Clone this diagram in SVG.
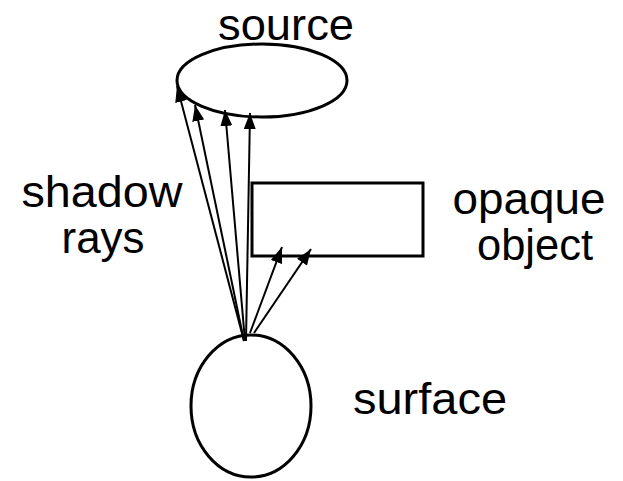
<svg xmlns="http://www.w3.org/2000/svg" width="623" height="481" viewBox="0 0 623 481">
<style>
.shape{fill:none;stroke:#000;stroke-width:3}
.ray{fill:none;stroke:#000;stroke-width:2;marker-end:url(#ah)}
text{font-family:"Liberation Sans",Arial,sans-serif;font-size:44px;fill:#000;text-anchor:middle}
</style>
<defs>
<marker id="ah" markerUnits="userSpaceOnUse" markerWidth="16" markerHeight="12" refX="16" refY="6" orient="auto">
<path d="M0,0 L16,6 L0,12 Z" fill="#000"/>
</marker>
</defs>
<g id="source">
<ellipse class="shape" cx="262" cy="80.5" rx="85" ry="36.5"/>
<text x="286" y="40" textLength="136" lengthAdjust="spacingAndGlyphs">source</text>
</g>
<g id="opaque-object">
<rect class="shape" x="252" y="183" width="171" height="73"/>
<text x="529" y="214" textLength="153" lengthAdjust="spacingAndGlyphs">opaque</text>
<text x="535" y="260" textLength="116" lengthAdjust="spacingAndGlyphs">object</text>
</g>
<g id="surface">
<ellipse class="shape" cx="251" cy="406" rx="60" ry="71"/>
<text x="430" y="414" textLength="154" lengthAdjust="spacingAndGlyphs">surface</text>
</g>
<g id="shadow-rays-label">
<text x="102" y="207" textLength="161" lengthAdjust="spacingAndGlyphs">shadow</text>
<text x="103" y="253" textLength="83" lengthAdjust="spacingAndGlyphs">rays</text>
</g>
<g id="connectors">
<line class="ray" x1="244" y1="341" x2="177" y2="86"/>
<line class="ray" x1="244" y1="341" x2="195" y2="105"/>
<line class="ray" x1="245" y1="341" x2="225" y2="110"/>
<line class="ray" x1="246" y1="341" x2="250" y2="113"/>
<line class="ray" x1="250" y1="333" x2="282" y2="247"/>
<line class="ray" x1="254" y1="333" x2="311" y2="249"/>
</g>
</svg>
